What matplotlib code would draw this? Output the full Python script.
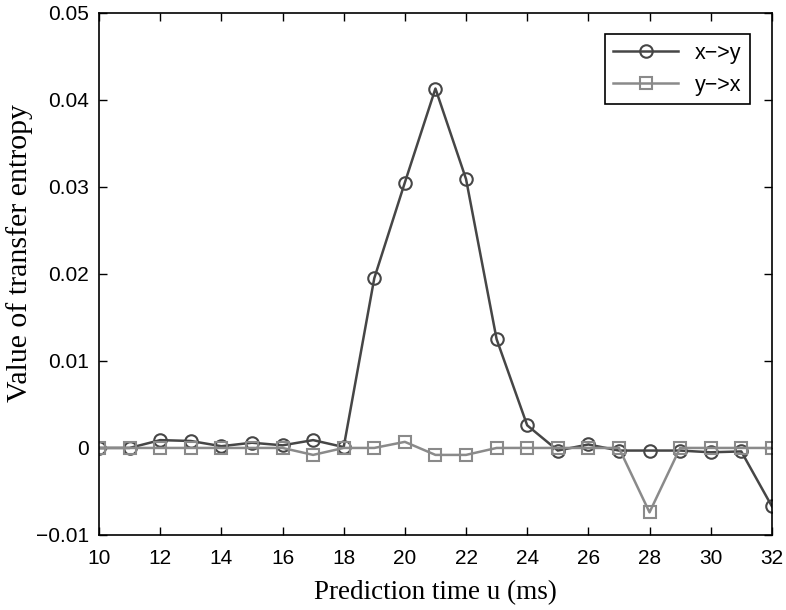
import numpy as np
import matplotlib.pyplot as plt

u = np.arange(10, 33)

te_xy = [0.0, 0.0, 0.0009, 0.0008, 0.0002, 0.0006, 0.0003, 0.0009, 0.0001,
         0.0195, 0.0305, 0.0413, 0.0309, 0.0125, 0.0026, -0.0003, 0.0004,
         -0.0003, -0.0003, -0.0003, -0.0005, -0.0004, -0.0067]
te_yx = [0.0, 0.0, 0.0, 0.0, 0.0, 0.0, 0.0, -0.0008, 0.0, 0.0, 0.0007,
         -0.0008, -0.0008, 0.0, 0.0, 0.0, 0.0, 0.0, -0.0074, 0.0, 0.0, 0.0, 0.0]

xticks = np.arange(10, 33, 2)
yticks = [-0.01, 0, 0.01, 0.02, 0.03, 0.04, 0.05]
ytick_labels = ["\u22120.01", "0", "0.01", "0.02", "0.03", "0.04", "0.05"]


def main():
    plt.rcParams['font.family'] = ['Liberation Sans', 'DejaVu Sans']

    fig = plt.figure(figsize=(7.86, 6.10), dpi=100)
    ax = fig.add_axes([0.126, 0.123, 0.856, 0.856])

    ax.plot(u, te_xy, color="#464646", linewidth=1.8, marker="o",
            markersize=9, markerfacecolor="none", markeredgewidth=1.5,
            label="x\u2212>y")
    ax.plot(u, te_yx, color="#8a8a8a", linewidth=1.8, marker="s",
            markersize=9, markerfacecolor="none", markeredgewidth=1.5,
            label="y\u2212>x")

    ax.set_xlim(10, 32)
    ax.set_ylim(-0.01, 0.05)
    ax.set_xticks(xticks)
    ax.set_yticks(yticks)
    ax.set_yticklabels(ytick_labels)
    ax.tick_params(axis="both", direction="in", length=6, width=1,
                   labelsize=15, top=True, right=True)
    ax.tick_params(axis="x", pad=10)
    ax.tick_params(axis="y", pad=7)
    for s in ax.spines.values():
        s.set_linewidth(1.2)

    ax.set_xlabel("Prediction time u (ms)", family="Liberation Serif",
                  fontsize=19.5, labelpad=9)
    ax.set_ylabel("Value of transfer entropy", family="Liberation Serif",
                  fontsize=21.5)
    ax.yaxis.set_label_coords(-0.098, 0.54)

    leg = ax.legend(loc="upper right", fontsize=15.5, fancybox=False,
                    framealpha=1, edgecolor="black", handlelength=3,
                    borderaxespad=1.0)
    leg.get_frame().set_linewidth(1.2)

    fig.savefig("out.png", dpi=100)


main()
